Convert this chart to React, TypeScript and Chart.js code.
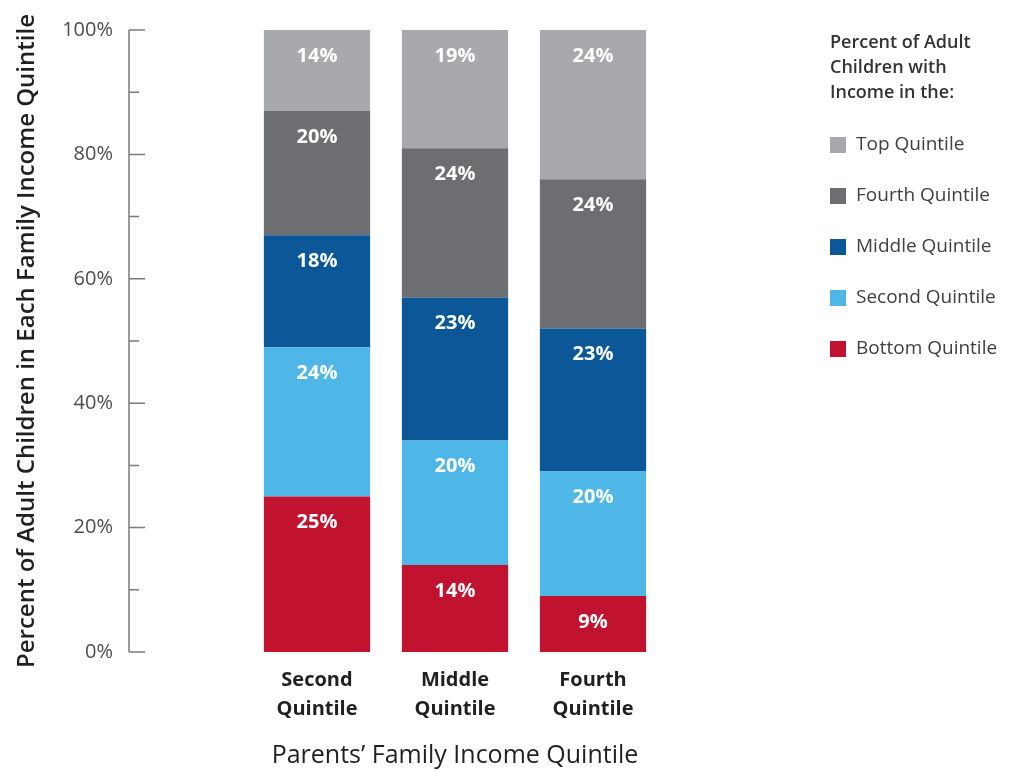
import React, { useEffect, useRef } from "react";
import { Chart, registerables } from "chart.js";

Chart.register(...registerables);

const categories: string[][] = [
  ["Second", "Quintile"],
  ["Middle", "Quintile"],
  ["Fourth", "Quintile"],
];

const bottomQuintile = [25, 14, 9];
const secondQuintile = [24, 20, 20];
const middleQuintile = [18, 23, 23];
const fourthQuintile = [20, 24, 24];
const topQuintile = [14, 19, 24];

const seriesLabels = [
  "Bottom Quintile",
  "Second Quintile",
  "Middle Quintile",
  "Fourth Quintile",
  "Top Quintile",
];
const seriesColors = ["#c1132f", "#4fb7e7", "#0b5798", "#6d6e71", "#a7a9ac"];

const legendTitle = ["Percent of Adult", "Children with", "Income in the:"];
const yTitle = "Percent of Adult Children in Each Family Income Quintile";
const xTitle = "Parents\u2019 Family Income Quintile";

const FONT = "'Open Sans', Lato, sans-serif";

const customPlugin = {
  id: "custom",
  afterDatasetsDraw(chart: any) {
    const ctx = chart.ctx;
    const area = chart.chartArea;
    const yScale = chart.scales.y;
    // segment labels
    ctx.save();
    ctx.fillStyle = "#ffffff";
    ctx.font = `bold 20px ${FONT}`;
    ctx.textAlign = "center";
    ctx.textBaseline = "middle";
    chart.data.datasets.forEach((ds: any, di: number) => {
      const meta = chart.getDatasetMeta(di);
      meta.data.forEach((bar: any, i: number) => {
        const top = Math.max(Math.min(bar.y, bar.base), area.top);
        ctx.fillText(ds.data[i] + "%", bar.x, top + 26);
      });
    });
    ctx.restore();

    // y axis line and ticks
    const axisX = 129;
    ctx.save();
    ctx.strokeStyle = "#7a7a7a";
    ctx.lineWidth = 1.5;
    ctx.beginPath();
    ctx.moveTo(axisX, area.top);
    ctx.lineTo(axisX, area.bottom);
    yScale.ticks.forEach((t: any) => {
      const py = yScale.getPixelForValue(t.value);
      const len = t.value % 20 === 0 ? 16 : 10;
      ctx.moveTo(axisX, py);
      ctx.lineTo(axisX + len, py);
    });
    ctx.stroke();
    ctx.restore();

    // legend
    ctx.save();
    const lx = 830;
    ctx.textAlign = "left";
    ctx.textBaseline = "middle";
    ctx.fillStyle = "#333333";
    ctx.font = `600 18px ${FONT}`;
    legendTitle.forEach((line, i) => {
      ctx.fillText(line, lx, 43 + i * 25);
    });
    ctx.font = `19px ${FONT}`;
    const n = chart.data.datasets.length;
    for (let k = 0; k < n; k++) {
      const ds = chart.data.datasets[n - 1 - k];
      const cy = 145 + k * 51;
      ctx.fillStyle = ds.backgroundColor;
      ctx.fillRect(lx, cy - 8, 16, 16);
      ctx.fillStyle = "#404040";
      ctx.fillText(ds.label, lx + 26, cy);
    }
    ctx.restore();
  },
};

export default function App() {
  const ref = useRef<HTMLCanvasElement | null>(null);
  useEffect(() => {
    if (!ref.current) return;
    const values = [bottomQuintile, secondQuintile, middleQuintile, fourthQuintile, topQuintile];
    const chart = new Chart(ref.current, {
      type: "bar",
      data: {
        labels: categories,
        datasets: values.map((v, i) => ({
          label: seriesLabels[i],
          data: v,
          backgroundColor: seriesColors[i],
          borderWidth: 0,
          categoryPercentage: 1,
          barPercentage: 0.77,
        })),
      },
      options: {
        responsive: false,
        animation: false,
        layout: { padding: { left: 0, right: 351, top: 30, bottom: 0 } },
        plugins: {
          legend: { display: false },
          tooltip: { enabled: false },
        },
        scales: {
          x: {
            stacked: true,
            grid: { display: false, drawTicks: false },
            border: { display: false },
            ticks: {
              color: "#231f20",
              padding: 14,
              font: { family: FONT, size: 20, weight: "bold", lineHeight: 1.45 },
            },
            title: {
              display: true,
              text: xTitle,
              color: "#231f20",
              font: { family: FONT, size: 25, weight: 500, lineHeight: 1.2 },
              padding: { top: 0, bottom: 1 },
            },
            afterFit: (s: any) => {
              s.height = 120;
              s.paddingTop = 0;
              s.paddingBottom = 0;
            },
          },
          y: {
            stacked: true,
            min: 0,
            max: 100,
            grid: { display: false, drawTicks: false },
            border: { display: false },
            ticks: {
              stepSize: 10,
              padding: 135,
              color: "#4d4d4d",
              font: { family: FONT, size: 20 },
              callback: (v: any) => (Number(v) % 20 === 0 ? v + "%" : ""),
            },
            title: {
              display: true,
              text: yTitle,
              color: "#231f20",
              font: { family: FONT, size: 24, weight: 600, lineHeight: 1.2 },
              padding: { top: 13, bottom: 0 },
            },
            afterFit: (s: any) => {
              s.width = 248;
              s.paddingTop = 0;
              s.paddingBottom = 0;
            },
          },
        },
      },
      plugins: [customPlugin],
    } as any);
    return () => chart.destroy();
  }, []);
  return (
    <div style={{ position: "fixed", left: 0, top: 0, width: 1013, height: 772, background: "#fff" }}>
      <canvas ref={ref} width={1013} height={772} style={{ display: "block" }} />
    </div>
  );
}
